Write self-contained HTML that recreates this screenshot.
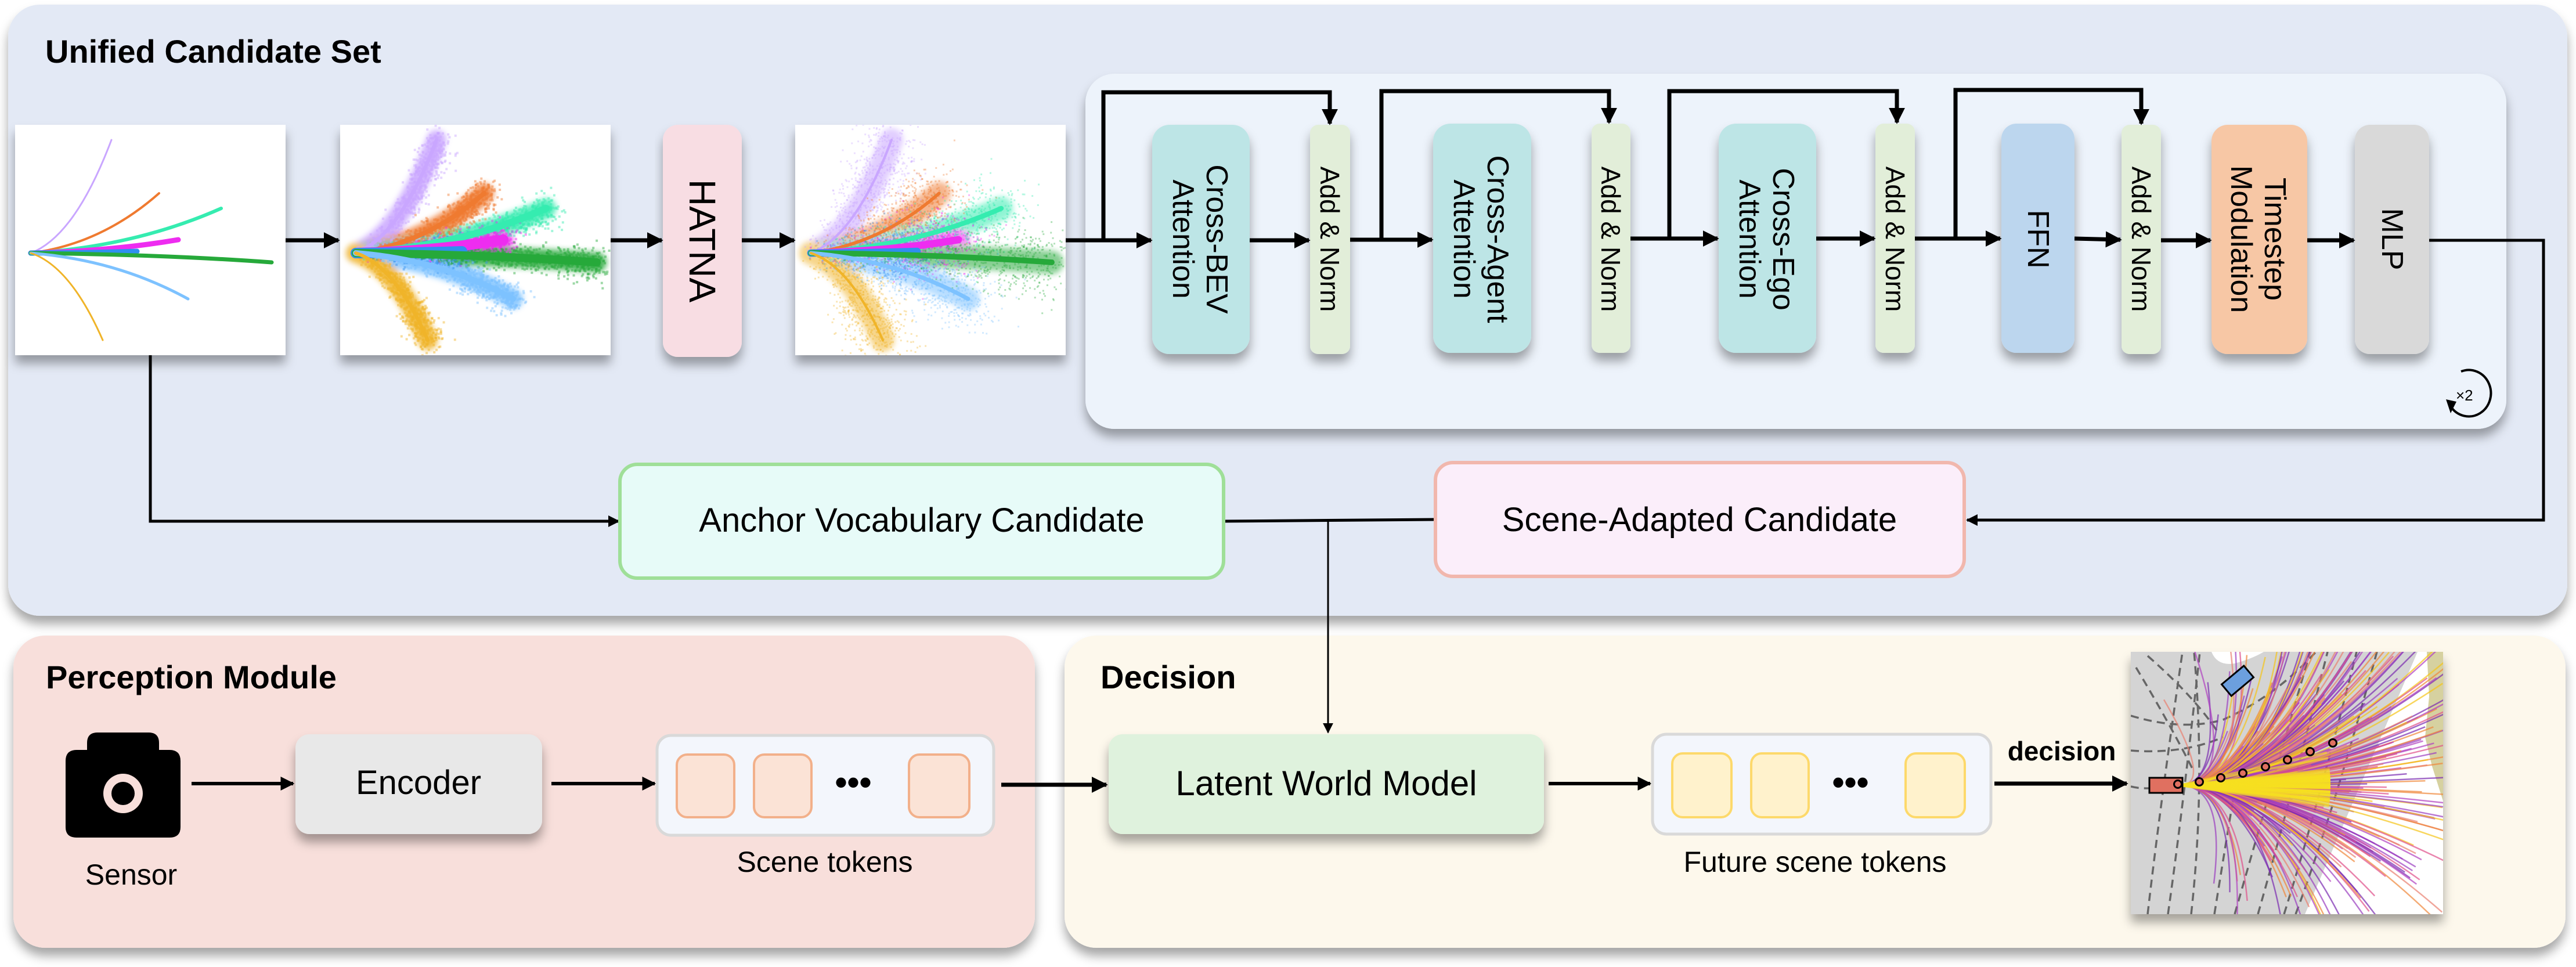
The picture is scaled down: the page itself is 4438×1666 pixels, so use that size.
<!DOCTYPE html>
<html><head><meta charset="utf-8"><style>
html,body{margin:0;padding:0;background:#fff;overflow:hidden;width:4438px;height:1666px;}
svg{display:block;}
text{font-family:"Liberation Sans",sans-serif;fill:#000;}
</style></head><body>
<svg id="s" xmlns="http://www.w3.org/2000/svg" width="4438" height="1666" viewBox="0 0 4438 1666">
<defs>
<filter id="sh" x="-10%" y="-10%" width="130%" height="140%"><feDropShadow dx="0" dy="14" stdDeviation="9" flood-color="#000" flood-opacity="0.35"/></filter>
<filter id="bl" x="-20%" y="-20%" width="140%" height="140%"><feGaussianBlur stdDeviation="5"/></filter>
<marker id="ar" viewBox="0 0 10 10" refX="9" refY="5" markerWidth="4" markerHeight="4" orient="auto" markerUnits="strokeWidth"><path d="M0,0 L10,5 L0,10 z" fill="#000"/></marker>
<marker id="ar2" viewBox="0 0 10 10" refX="9" refY="5" markerWidth="6" markerHeight="7" orient="auto" markerUnits="strokeWidth"><path d="M0,0 L10,5 L0,10 z" fill="#000"/></marker>
<clipPath id="mapc"><rect x="3671" y="1123" width="538" height="452"/></clipPath>
<clipPath id="c2"><rect x="586" y="215" width="466" height="397"/></clipPath>
<clipPath id="c3"><rect x="1370" y="215" width="466" height="397"/></clipPath>
</defs>

<rect x="14" y="8" width="4409" height="1053" rx="55" fill="#e3e9f5" filter="url(#sh)"/>
<rect x="23" y="1095" width="1760" height="538" rx="55" fill="#f8dfdb" filter="url(#sh)"/>
<rect x="1834" y="1095" width="2586" height="538" rx="55" fill="#fdf8ec" filter="url(#sh)"/>
<text x="78" y="108" font-size="56" font-weight="bold">Unified Candidate Set</text>
<text x="79" y="1186" font-size="56" font-weight="bold">Perception Module</text>
<text x="1896" y="1186" font-size="56" font-weight="bold">Decision</text>

<rect x="1870" y="127" width="2448" height="612" rx="50" fill="#edf3fb" filter="url(#sh)"/>

<rect x="26" y="215" width="466" height="397" fill="#fff" filter="url(#sh)"/>
<rect x="586" y="215" width="466" height="397" fill="#fff" filter="url(#sh)"/>
<rect x="1370" y="215" width="466" height="397" fill="#fff" filter="url(#sh)"/>
<g id="img1"></g><g id="img2" clip-path="url(#c2)"></g><g id="img3" clip-path="url(#c3)"></g>

<rect x="1142" y="215" width="136" height="400" rx="26" fill="#f8dde3" filter="url(#sh)"/>
<text transform="translate(1210,415) rotate(90)" text-anchor="middle" dominant-baseline="central" font-size="64">HATNA</text>

<g filter="url(#sh)">
<rect x="1985" y="215" width="168" height="395" rx="30" fill="#bde5e6"/>
<rect x="2257" y="215" width="69" height="395" rx="14" fill="#e2eed9"/>
<rect x="2469" y="213" width="169" height="395" rx="30" fill="#bde5e6"/>
<rect x="2742" y="213" width="67" height="395" rx="14" fill="#e2eed9"/>
<rect x="2961" y="213" width="168" height="395" rx="30" fill="#bde5e6"/>
<rect x="3231" y="213" width="68" height="395" rx="14" fill="#e2eed9"/>
<rect x="3448" y="213" width="126" height="395" rx="26" fill="#bcd6ee"/>
<rect x="3655" y="215" width="68" height="395" rx="14" fill="#e2eed9"/>
<rect x="3810" y="215" width="165" height="395" rx="28" fill="#f7c7a5"/>
<rect x="4057" y="215" width="128" height="395" rx="26" fill="#d9d9d9"/>
</g>
<g font-size="52">
<text transform="translate(2069,412) rotate(90)" text-anchor="middle"><tspan x="0" dy="-10">Cross-BEV</tspan><tspan x="0" dy="58">Attention</tspan></text>
<text transform="translate(2553,412) rotate(90)" text-anchor="middle"><tspan x="0" dy="-10">Cross-Agent</tspan><tspan x="0" dy="58">Attention</tspan></text>
<text transform="translate(3045,412) rotate(90)" text-anchor="middle"><tspan x="0" dy="-10">Cross-Ego</tspan><tspan x="0" dy="58">Attention</tspan></text>
<text transform="translate(3511,412) rotate(90)" text-anchor="middle" dominant-baseline="central">FFN</text>
<text transform="translate(3892,412) rotate(90)" text-anchor="middle"><tspan x="0" dy="-10">Timestep</tspan><tspan x="0" dy="58">Modulation</tspan></text>
<text transform="translate(4121,412) rotate(90)" text-anchor="middle" dominant-baseline="central">MLP</text>
</g>
<g font-size="46">
<text transform="translate(2291,412) rotate(90)" text-anchor="middle" dominant-baseline="central">Add &amp; Norm</text>
<text transform="translate(2775,412) rotate(90)" text-anchor="middle" dominant-baseline="central">Add &amp; Norm</text>
<text transform="translate(3265,412) rotate(90)" text-anchor="middle" dominant-baseline="central">Add &amp; Norm</text>
<text transform="translate(3689,412) rotate(90)" text-anchor="middle" dominant-baseline="central">Add &amp; Norm</text>
</g>

<g stroke="#000" stroke-width="7" fill="none" marker-end="url(#ar)">
<line x1="492" y1="414" x2="583" y2="414"/>
<line x1="1052" y1="414" x2="1140" y2="414"/>
<line x1="1278" y1="414" x2="1368" y2="414"/>
<line x1="1836" y1="414" x2="1983" y2="414"/>
<line x1="2153" y1="414" x2="2255" y2="414"/>
<line x1="2326" y1="413" x2="2467" y2="413"/>
<line x1="2809" y1="411" x2="2959" y2="411"/>
<line x1="3129" y1="411" x2="3229" y2="411"/>
<line x1="3299" y1="411" x2="3446" y2="411"/>
<line x1="3574" y1="411" x2="3653" y2="413"/>
<line x1="3723" y1="414" x2="3808" y2="414"/>
<line x1="3975" y1="414" x2="4055" y2="414"/>
<polyline points="1901,414 1901,159 2291,159 2291,213"/>
<polyline points="2380,413 2380,157 2772,157 2772,211"/>
<polyline points="2876,411 2876,157 3268,157 3268,211"/>
<polyline points="3369,411 3369,155 3689,155 3689,213"/>
</g>
<g stroke="#000" stroke-width="5" fill="none">
<polyline points="4185,414 4382,414 4382,896 3389,896" marker-end="url(#ar)"/>
<polyline points="259,612 259,898 1066,898" marker-end="url(#ar)"/>
<line x1="2108" y1="898" x2="2473" y2="895"/>
<line x1="2288" y1="896" x2="2288" y2="1262" stroke-width="3" marker-end="url(#ar2)"/>
</g>
<path d="M4240,640 A38,40 0 1 1 4222,700" fill="none" stroke="#000" stroke-width="4"/>
<path d="M4214,688 L4222,712 L4232,692 z" fill="#000"/>
<text x="4231" y="690" font-size="26">×2</text>

<rect x="1068" y="800" width="1040" height="196" rx="30" fill="#e7fbf8" stroke="#9fdf98" stroke-width="6"/>
<text x="1588" y="916" text-anchor="middle" font-size="58">Anchor Vocabulary Candidate</text>
<rect x="2473" y="797" width="911" height="196" rx="30" fill="#fbeefa" stroke="#f1b7ad" stroke-width="6"/>
<text x="2928" y="915" text-anchor="middle" font-size="58">Scene-Adapted Candidate</text>

<g>
<path d="M150,1280 Q150,1262 168,1262 L256,1262 Q274,1262 274,1280 L274,1292 L292,1292 Q311,1292 311,1311 L311,1425 Q311,1443 292,1443 L132,1443 Q113,1443 113,1425 L113,1311 Q113,1292 132,1292 L150,1292 z" fill="#000"/>
<circle cx="212" cy="1367" r="34" fill="#f8dfdb"/><circle cx="212" cy="1367" r="20" fill="#000"/>
</g>
<text x="226" y="1524" text-anchor="middle" font-size="50">Sensor</text>
<line x1="330" y1="1350" x2="505" y2="1350" stroke="#000" stroke-width="6" marker-end="url(#ar)"/>
<rect x="509" y="1265" width="425" height="172" rx="24" fill="#e8e8e8" filter="url(#sh)"/>
<text x="721" y="1368" text-anchor="middle" font-size="58">Encoder</text>
<line x1="950" y1="1350" x2="1128" y2="1350" stroke="#000" stroke-width="6" marker-end="url(#ar)"/>
<rect x="1132" y="1267" width="580" height="172" rx="24" fill="#f3f6fc" stroke="#d9d9d9" stroke-width="5"/>
<rect x="1166" y="1300" width="99" height="108" rx="18" fill="#fbe3d6" stroke="#f2b08a" stroke-width="4"/>
<rect x="1299" y="1300" width="99" height="108" rx="18" fill="#fbe3d6" stroke="#f2b08a" stroke-width="4"/>
<rect x="1566" y="1300" width="104" height="108" rx="18" fill="#fbe3d6" stroke="#f2b08a" stroke-width="4"/>
<text x="1470" y="1368" text-anchor="middle" font-size="60" font-weight="bold">•••</text>
<text x="1421" y="1502" text-anchor="middle" font-size="50">Scene tokens</text>
<line x1="1725" y1="1352" x2="1906" y2="1352" stroke="#000" stroke-width="7" marker-end="url(#ar)"/>

<rect x="1910" y="1265" width="750" height="172" rx="24" fill="#dff2dd" filter="url(#sh)"/>
<text x="2285" y="1370" text-anchor="middle" font-size="60">Latent World Model</text>
<line x1="2668" y1="1350" x2="2843" y2="1350" stroke="#000" stroke-width="6" marker-end="url(#ar)"/>
<rect x="2847" y="1265" width="583" height="172" rx="24" fill="#f3f6fc" stroke="#d9d9d9" stroke-width="5"/>
<rect x="2881" y="1298" width="102" height="110" rx="18" fill="#fff2cc" stroke="#fdd96b" stroke-width="4"/>
<rect x="3017" y="1298" width="99" height="110" rx="18" fill="#fff2cc" stroke="#fdd96b" stroke-width="4"/>
<rect x="3283" y="1298" width="102" height="110" rx="18" fill="#fff2cc" stroke="#fdd96b" stroke-width="4"/>
<text x="3188" y="1368" text-anchor="middle" font-size="60" font-weight="bold">•••</text>
<text x="3127" y="1502" text-anchor="middle" font-size="50">Future scene tokens</text>
<text x="3552" y="1310" text-anchor="middle" font-size="46" font-weight="bold">decision</text>
<line x1="3436" y1="1350" x2="3664" y2="1350" stroke="#000" stroke-width="7" marker-end="url(#ar)"/>

<rect x="3671" y="1123" width="538" height="452" fill="#fff" filter="url(#sh)"/>
<g clip-path="url(#mapc)" id="map">
<polygon points="3671,1123 4165,1123 3971,1575 3671,1575" fill="#d4d4d4"/>
<path d="M3810,1123 Q3820,1148 3850,1143 Q3880,1135 3900,1123 z" fill="#fff"/>
<polygon points="4181,1123 4209,1123 4209,1380 4190,1320 4178,1270 4185,1200" fill="#d6d1a0"/>
<g id="mapdash" fill="none" stroke="#666" stroke-width="3.5" stroke-dasharray="14,9"></g>
<g id="fan"></g>
<rect x="3830" y="1160" width="50" height="26" transform="rotate(-40 3855 1173)" fill="#6c9fde" stroke="#000" stroke-width="3"/>
<rect x="3703" y="1340" width="57" height="26" fill="#e07060" stroke="#000" stroke-width="3"/>
<g id="dots" fill="#e07060" stroke="#000" stroke-width="3"></g>
</g>
</svg>
<script>
var NS="http://www.w3.org/2000/svg";
function el(p,n,a){var e=document.createElementNS(NS,n);for(var k in a)e.setAttribute(k,a[k]);p.appendChild(e);return e;}
var seed=7;function rnd(){seed=(seed*16807)%2147483647;return seed/2147483647;}
function g(){return Math.sqrt(-2*Math.log(rnd()+1e-9))*Math.cos(6.283*rnd());}
var O=[53,436];
var C=[["#c9a6ff",192,241,3],["#ef7a30",274,333,4],["#35ecb0",381,359,6],["#ee2cf0",307,413,9],["#2f8ff0",236,433,9],["#26a93a",468,452,7],["#7dc2ff",324,515,5],["#f0b429",177,586,3]];
function ctrl(c){return [O[0]+(c[1]-O[0])*0.55,O[1]+(c[2]-O[1])*0.15];}
function pt(c,t){var k=ctrl(c);return [(1-t)*(1-t)*O[0]+2*(1-t)*t*k[0]+t*t*c[1],(1-t)*(1-t)*O[1]+2*(1-t)*t*k[1]+t*t*c[2]];}
function dpath(c,dx,sx){var k=ctrl(c);var ex=O[0]+(c[1]-O[0])*sx,kx=O[0]+(k[0]-O[0])*sx;return "M"+(O[0]+dx)+","+O[1]+" Q"+(kx+dx)+","+k[1]+" "+(ex+dx)+","+c[2];}
function curves(gp,dx,wmul,sx){C.forEach(function(c){el(gp,"path",{d:dpath(c,dx,sx||1),stroke:c[0],"stroke-width":c[3]*wmul,fill:"none","stroke-linecap":"round"});});}
function bands(gp,dx,w,op,sx){var b=el(gp,"g",{filter:"url(#bl)",opacity:op});C.forEach(function(c){el(b,"path",{d:dpath(c,dx,sx),stroke:c[0],"stroke-width":w,fill:"none","stroke-linecap":"round"});});}
function scatter(gp,dx,spread,n,op,sx,sz){C.forEach(function(c){for(var i=0;i<n;i++){var t=Math.sqrt(rnd());var p=pt(c,t*1.02);var px=O[0]+(p[0]-O[0])*sx;var s=spread*(0.4+t);el(gp,"rect",{x:(px+dx+g()*s).toFixed(1),y:(p[1]+g()*s).toFixed(1),width:sz,height:sz,fill:c[0],opacity:op});}});}
var i1=document.getElementById("img1"),i2=document.getElementById("img2"),i3=document.getElementById("img3");
curves(i1,0,1,1);
bands(i2,560,34,0.85,1.0);scatter(i2,560,10,700,0.45,1.0,4);curves(i2,560,2,1.0);
bands(i3,1344,40,0.55,1.0);scatter(i3,1344,22,700,0.35,1.0,3);curves(i3,1344,1.4,1.0);
var md=document.getElementById("mapdash");
var dl=["M3700,1575 Q3720,1400 3760,1123","M3735,1575 Q3760,1400 3790,1123","M3775,1575 Q3800,1350 3780,1123","M3815,1575 Q3840,1420 3860,1300","M3850,1575 Q3900,1400 3980,1123","M3890,1575 Q3940,1400 4010,1123","M3935,1575 Q3990,1400 4060,1123","M3955,1575 Q4020,1400 4095,1123","M3671,1233 Q3760,1260 3830,1240 Q3920,1200 3990,1123","M3671,1293 Q3760,1300 3830,1270","M3671,1355 Q3690,1360 3720,1357","M3680,1150 Q3740,1250 3780,1330","M3700,1130 Q3780,1200 3820,1260"];
dl.forEach(function(d){el(md,"path",{d:d});});
var fan=document.getElementById("fan");var cols=["#7b2bb0","#9b3fc0","#e0508a","#f0883a","#f5c518","#e98070","#b040c0"];
for(var i=0;i<320;i++){var a=(g()*0.5)-0.1;var L=120+rnd()*400;var x0=3755,y0=1353;var x1=x0+L*Math.cos(a),y1=y0+L*Math.sin(a)-L*0.12*rnd();el(fan,"path",{d:"M"+x0+","+y0+" Q"+(x0+L*0.4)+","+y0+" "+x1.toFixed(1)+","+y1.toFixed(1),stroke:cols[i%cols.length],"stroke-width":2.5,fill:"none",opacity:0.7});}
for(var i=0;i<60;i++){var a=g()*0.07;el(fan,"line",{x1:3755,y1:1353,x2:3755+260*Math.cos(a),y2:1353+260*Math.sin(a),stroke:"#f7e020","stroke-width":4,opacity:0.6});}
var dots=document.getElementById("dots");
[[3752,1351],[3789,1347],[3826,1340],[3864,1332],[3903,1321],[3941,1309],[3980,1295],[4019,1280]].forEach(function(p){el(dots,"circle",{cx:p[0],cy:p[1],r:6.5});});
</script>
</body></html>
